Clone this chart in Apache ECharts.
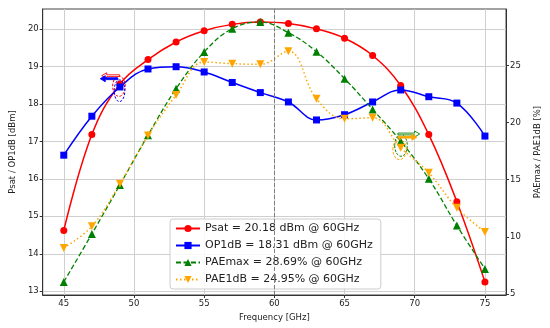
<!DOCTYPE html>
<html><head><meta charset="utf-8">
<script src="https://cdn.jsdelivr.net/npm/echarts@6/dist/echarts.min.js"></script>
<style>html,body{margin:0;padding:0;background:#fff}#c{width:550px;height:328px}</style>
</head><body><div id="c"></div>
<script>
const freq = [45,47,49,51,53,55,57,59,61,63,65,67,69,71,73,75];
const psat = [14.62,17.18,18.53,19.18,19.65,19.95,20.12,20.18,20.14,20.00,19.75,19.29,18.49,17.18,15.39,13.25];
const op1db = [16.63,17.67,18.45,18.93,18.99,18.85,18.57,18.30,18.05,17.57,17.71,18.05,18.37,18.19,18.02,17.14];
const paemax = [6.06,10.26,14.55,18.90,22.96,26.17,28.21,28.79,27.86,26.20,23.84,21.15,18.37,15.08,10.99,7.20];
const pae1db = [9.04,10.93,14.64,18.87,22.40,25.29,25.15,25.09,26.23,22.08,20.33,20.42,17.80,15.60,12.54,10.44];
const xTicks = [45,50,55,60,65,70,75];
const leftTicks = [13,14,15,16,17,18,19,20];
const rightTicks = [5,10,15,20,25];
const seriesNames = ['Psat = 20.18 dBm @ 60GHz','OP1dB = 18.31 dBm @ 60GHz','PAEmax = 28.69% @ 60GHz','PAE1dB = 24.95% @ 60GHz'];
const markFreq = 60;

const FONT = 'DejaVu Sans';
const zip = (xs, ys) => xs.map((x, i) => [x, ys[i]]);
const chart = echarts.init(document.getElementById('c'), null, {renderer: 'canvas'});
const axisCommon = {
  axisLine: {show: true, lineStyle: {color: '#333', width: 1}},
  axisTick: {show: true, length: 3, lineStyle: {color: '#333'}},
  axisLabel: {color: '#222', fontFamily: FONT, fontSize: 8.5, margin: 4},
  nameTextStyle: {color: '#222', fontFamily: FONT, fontSize: 8.5}
};
chart.setOption({
  animation: false,
  backgroundColor: '#fff',
  grid: {left: 36, right: 36, top: 9, bottom: 33, show: true, borderColor: '#444', borderWidth: 1, containLabel: false},
  legend: {
    orient: 'vertical', left: 170, top: 219,
    backgroundColor: 'rgba(255,255,255,0.85)', borderColor: '#cccccc', borderWidth: 1, borderRadius: 3,
    padding: [4, 8, 4, 5], itemGap: 6, itemWidth: 24, itemHeight: 9,
    textStyle: {fontFamily: FONT, fontSize: 11, color: '#222'},
    data: seriesNames
  },
  xAxis: Object.assign({}, axisCommon, {
    type: 'value', min: 43.5, max: 76.5,
    name: 'Frequency [GHz]', nameLocation: 'middle', nameGap: 17,
    axisTick: Object.assign({}, axisCommon.axisTick, {customValues: xTicks}),
    axisLabel: Object.assign({}, axisCommon.axisLabel, {customValues: xTicks}),
    splitLine: {show: true, lineStyle: {color: '#cfcfcf', width: 1}}
  }),
  yAxis: [
    Object.assign({}, axisCommon, {
      type: 'value', min: 12.9, max: 20.53, position: 'left',
      name: 'Psat / OP1dB [dBm]', nameLocation: 'middle', nameGap: 20,
      axisTick: Object.assign({}, axisCommon.axisTick, {customValues: leftTicks}),
      axisLabel: Object.assign({}, axisCommon.axisLabel, {customValues: leftTicks}),
      splitLine: {show: true, lineStyle: {color: '#cfcfcf', width: 1}}
    }),
    Object.assign({}, axisCommon, {
      type: 'value', min: 4.92, max: 29.93, position: 'right',
      name: 'PAEmax / PAE1dB [%]', nameLocation: 'middle', nameGap: 27, nameRotate: 90,
      axisTick: Object.assign({}, axisCommon.axisTick, {customValues: rightTicks}),
      axisLabel: Object.assign({}, axisCommon.axisLabel, {customValues: rightTicks}),
      splitLine: {show: false}
    })
  ],
  series: [
    {name: seriesNames[0], type: 'line', yAxisIndex: 0, data: zip(freq, psat), smooth: 0.4,
     symbol: 'circle', symbolSize: 7, color: '#ff0000', lineStyle: {width: 1.5, color: '#ff0000'},
     itemStyle: {color: '#ff0000'},
     markLine: {silent: true, symbol: 'none', label: {show: false},
       lineStyle: {color: '#808080', type: [4, 2], width: 1}, data: [{xAxis: markFreq}]}},
    {name: seriesNames[1], type: 'line', yAxisIndex: 0, data: zip(freq, op1db), smooth: 0.4,
     symbol: 'rect', symbolSize: 7, color: '#0000ff', lineStyle: {width: 1.5, color: '#0000ff'},
     itemStyle: {color: '#0000ff'}},
    {name: seriesNames[2], type: 'line', yAxisIndex: 1, data: zip(freq, paemax), smooth: 0.4,
     symbol: 'triangle', symbolSize: 8, color: '#008000', lineStyle: {width: 1.3, color: '#008000', type: [5, 2.5]},
     itemStyle: {color: '#008000'}},
    {name: seriesNames[3], type: 'line', yAxisIndex: 1, data: zip(freq, pae1db), smooth: 0.4,
     symbol: 'triangle', symbolRotate: 180, symbolSize: 8, color: '#ffa500', lineStyle: {width: 1.5, color: '#ffa500', type: [1.5, 2.5]},
     itemStyle: {color: '#ffa500'}}
  ]
});

// annotations: ellipses and arrows, placed through the axes
function px(ax, p) { return chart.convertToPixel({xAxisIndex: 0, yAxisIndex: ax}, p); }
function ellipse(ax, cx, cy, dx, dy, color) {
  const c = px(ax, [cx, cy]);
  const e = px(ax, [cx + dx, cy + dy]);
  return {type: 'ellipse', z: 100, shape: {cx: c[0], cy: c[1], rx: Math.abs(e[0] - c[0]), ry: Math.abs(e[1] - c[1])},
    style: {fill: null, stroke: color, lineWidth: 1, lineDash: [2.5, 1.5]}};
}
function arrow(ax, x0, x1, y, color, filled) {
  const a = px(ax, [x0, y]);
  const b = px(ax, [x1, y]);
  const dir = Math.sign(b[0] - a[0]);
  const hl = 5, hw = 3, sw = 0.9;
  const yy = a[1];
  const bx = b[0] - dir * hl;
  const pts = [[a[0], yy - sw], [bx, yy - sw], [bx, yy - hw], [b[0], yy], [bx, yy + hw], [bx, yy + sw], [a[0], yy + sw]];
  return {type: 'polygon', z: 100, shape: {points: pts},
    style: {fill: filled ? color : '#fff', stroke: color, lineWidth: 0.9}};
}
chart.setOption({graphic: [
  ellipse(0, 48.93, 18.47, 0.45, 0.27, '#ff0000'),
  ellipse(0, 48.97, 18.35, 0.38, 0.29, '#0000ff'),
  arrow(0, 48.98, 47.7, 18.75, '#ff0000', false),
  arrow(0, 48.85, 47.6, 18.67, '#0000ff', true),
  ellipse(1, 69.02, 18.0, 0.45, 0.95, '#008000'),
  ellipse(1, 68.92, 17.64, 0.48, 0.88, '#ffa500'),
  arrow(1, 68.8, 70.35, 19.0, '#008000', false),
  arrow(1, 68.8, 70.15, 18.72, '#ffa500', true)
]});
</script>
</body></html>
